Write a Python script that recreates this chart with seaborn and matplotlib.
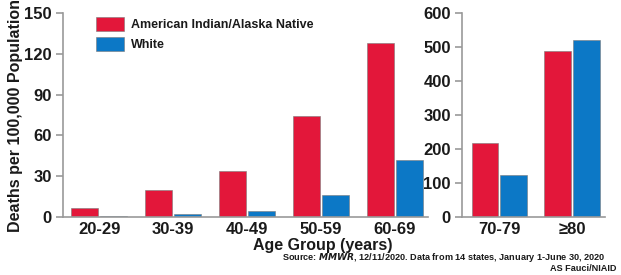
import seaborn as sns
import matplotlib.pyplot as plt
import pandas as pd

# Data
ages_young = ['20-29', '30-39', '40-49', '50-59', '60-69']
aian_young = [6.5, 20, 34, 74, 128]
white_young = [0.7, 2, 4.4, 16, 42]

ages_old = ['70-79', '≥80']
aian_old = [219, 488]
white_old = [124, 521]

groups = ['American Indian/Alaska Native', 'White']
colors = ['#E3173A', '#0C78C6']

def make_df(ages, aian, white):
    return pd.DataFrame({
        'age': ages * 2,
        'rate': aian + white,
        'group': [groups[0]] * len(ages) + [groups[1]] * len(ages),
    })

df_young = make_df(ages_young, aian_young, white_young)
df_old = make_df(ages_old, aian_old, white_old)

sns.set_style('white')
plt.rcParams['font.family'] = ['Liberation Sans', 'DejaVu Sans']
plt.rcParams['font.weight'] = 'bold'

fig = plt.figure(figsize=(6.21, 2.75), dpi=100)
ax1 = fig.add_axes([0.1014, 0.211, 0.588, 0.741])
ax2 = fig.add_axes([0.744, 0.211, 0.230, 0.741])

pal = dict(zip(groups, colors))
sns.barplot(data=df_young, x='age', y='rate', hue='group', palette=pal,
            width=0.78, gap=0.06, ax=ax1, edgecolor='#7a7a7a', linewidth=0.4,
            saturation=1)
sns.barplot(data=df_old, x='age', y='rate', hue='group', palette=pal,
            width=0.78, gap=0.06, ax=ax2, edgecolor='#7a7a7a', linewidth=0.4,
            saturation=1, legend=False)

ax1.set_ylim(0, 150)
ax1.set_yticks([0, 30, 60, 90, 120, 150])
ax1.set_xlim(-0.49, 4.45)
ax2.set_ylim(0, 600)
ax2.set_yticks([0, 100, 200, 300, 400, 500, 600])
ax2.set_xlim(-0.51, 1.45)

for ax in (ax1, ax2):
    ax.set_xlabel('')
    ax.set_ylabel('')
    for s in ('top', 'right'):
        ax.spines[s].set_visible(False)
    for s in ('left', 'bottom'):
        ax.spines[s].set_color('#999999')
        ax.spines[s].set_linewidth(1.2)
    ax.tick_params(axis='y', which='both', left=True, length=5, width=1.2,
                   color='#999999', labelsize=12, pad=3)
    ax.tick_params(axis='x', bottom=False, labelsize=12, pad=0)
    for lab in ax.get_xticklabels() + ax.get_yticklabels():
        lab.set_fontweight('bold')
        lab.set_color('#1a1a1a')

ax1.set_ylabel('Deaths per 100,000 Population', fontsize=11.5, fontweight='bold',
               color='#1a1a1a', labelpad=1)

leg = ax1.legend(loc='upper left', bbox_to_anchor=(0.06, 1.035), frameon=False,
                 fontsize=9, handlelength=2.2, handleheight=1.3,
                 handletextpad=0.6, labelspacing=0.45)
for t in leg.get_texts():
    t.set_fontweight('bold')
    t.set_color('#1a1a1a')

fig.text(0.52, 0.108, 'Age Group (years)', ha='center', va='center',
         fontsize=11.5, fontweight='bold', color='#1a1a1a')
fig.text(0.975, 0.063,
         'Source: $\\it{MMWR}$, 12/11/2020. Data from 14 states, January 1-June 30, 2020',
         ha='right', va='center', fontsize=6.6, fontweight='bold', color='#1a1a1a')
fig.text(0.993, 0.024, 'AS Fauci/NIAID', ha='right', va='center',
         fontsize=6.6, fontweight='bold', color='#1a1a1a')

fig.savefig('out.png', dpi=100)
